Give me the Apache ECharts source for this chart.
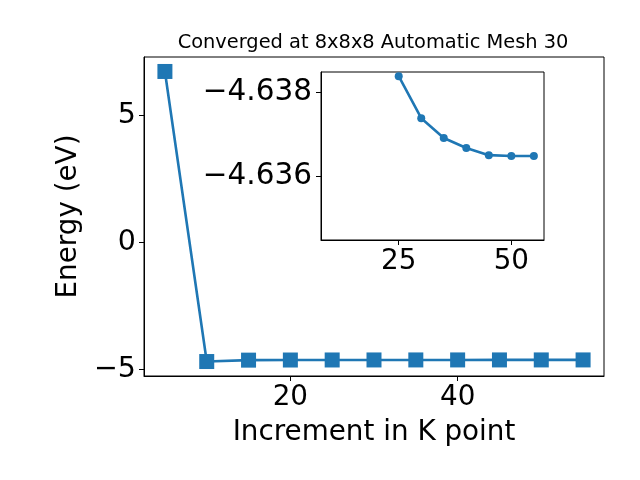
<!DOCTYPE html>
<html><head><meta charset="utf-8">
<script src="https://cdn.jsdelivr.net/npm/echarts@6/dist/echarts.min.js"></script>
<style>html,body{margin:0;padding:0;background:#fff}#c{width:640px;height:480px}</style>
</head><body><div id="c"></div>
<script>
const titleText = "Converged at 8x8x8 Automatic Mesh 30";
const xName = "Increment in K point";
const yName = "Energy (eV)";
const kPoints = [5, 10, 15, 20, 25, 30, 35, 40, 45, 50, 55];
const energies = [6.73, -4.70, -4.645, -4.640, -4.63838, -4.63738, -4.63691, -4.63667, -4.6365, -4.63648, -4.63648];
const insetK = [25, 30, 35, 40, 45, 50, 55];
const insetE = [-4.63838, -4.63738, -4.63691, -4.63667, -4.6365, -4.63648, -4.63648];
const mainXTicks = [20, 40];
const mainYTicks = [-5, 0, 5];
const insetXTicks = [25, 50];
const insetYTicks = [-4.638, -4.636];

const FONT = "DejaVu Sans";
const COLOR = "#1f77b4";
const fmt = (v, d) => { const s = Number(v).toFixed(d); return s.replace('-', '\u2212'); };

const chart = echarts.init(document.getElementById('c'), null, {renderer: 'canvas'});
const axisCommon = {
  axisLine: {show: true, onZero: false, lineStyle: {color: '#000', width: 1}},
  axisTick: {show: true, inside: false, length: 5, lineStyle: {color: '#000', width: 1}},
  splitLine: {show: false},
};
chart.setOption({
  animation: false,
  backgroundColor: '#fff',
  title: {text: titleText, left: 368, top: 28, textAlign: 'center',
    textStyle: {fontFamily: FONT, fontSize: 19.4, fontWeight: 'normal', color: '#000'}},
  grid: [
    {left: 144, top: 57, right: 36, bottom: 104, show: true, borderColor: '#000', borderWidth: 1, backgroundColor: 'transparent'},
    {left: 321, top: 72, width: 223, height: 168, show: true, borderColor: '#000', borderWidth: 1, backgroundColor: '#fff', z: 5}
  ],
  xAxis: [
    Object.assign({}, axisCommon, {type: 'value', gridIndex: 0, min: 2.5, max: 57.5,
      name: xName, nameLocation: 'middle', nameGap: 43,
      nameTextStyle: {fontFamily: FONT, fontSize: 27.8, color: '#000'},
      axisLabel: {customValues: mainXTicks, fontFamily: FONT, fontSize: 27.8, color: '#000', margin: 8, formatter: v => fmt(v, 0)},
      axisTick: Object.assign({}, axisCommon.axisTick, {customValues: mainXTicks})}),
    Object.assign({}, axisCommon, {type: 'value', gridIndex: 1, min: 7.75, max: 57.25, z: 6,
      axisLabel: {customValues: insetXTicks, fontFamily: FONT, fontSize: 27.8, color: '#000', margin: 8, formatter: v => fmt(v, 0)},
      axisTick: Object.assign({}, axisCommon.axisTick, {customValues: insetXTicks})})
  ],
  yAxis: [
    Object.assign({}, axisCommon, {type: 'value', gridIndex: 0, min: -5.27, max: 7.3,
      name: yName, nameLocation: 'middle', nameGap: 59, nameRotate: 90,
      nameTextStyle: {fontFamily: FONT, fontSize: 27.8, color: '#000'},
      axisLabel: {customValues: mainYTicks, fontFamily: FONT, fontSize: 28.5, color: '#000', margin: 8, formatter: v => fmt(v, 0)},
      axisTick: Object.assign({}, axisCommon.axisTick, {customValues: mainYTicks})}),
    Object.assign({}, axisCommon, {type: 'value', gridIndex: 1, inverse: true, min: -4.63848, max: -4.63448, z: 6,
      axisLabel: {customValues: insetYTicks, fontFamily: FONT, fontSize: 29.5, color: '#000', margin: 9, formatter: v => fmt(v, 3)},
      axisTick: Object.assign({}, axisCommon.axisTick, {customValues: insetYTicks})})
  ],
  series: [
    {type: 'line', xAxisIndex: 0, yAxisIndex: 0, data: kPoints.map((k, i) => [k, energies[i]]),
      symbol: 'rect', symbolSize: 15, showAllSymbol: true,
      lineStyle: {color: COLOR, width: 2.6}, itemStyle: {color: COLOR}, z: 2},
    {type: 'line', xAxisIndex: 1, yAxisIndex: 1, data: insetK.map((k, i) => [k, insetE[i]]),
      symbol: 'circle', symbolSize: 8, showAllSymbol: true, clip: true,
      lineStyle: {color: COLOR, width: 2.6}, itemStyle: {color: COLOR}, z: 10}
  ]
});
</script></body></html>
